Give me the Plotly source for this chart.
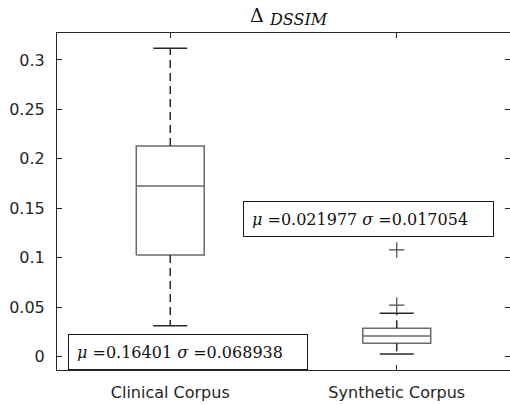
import plotly.graph_objects as go

# Summary statistics of the DSSIM difference for each corpus
categories = ["Clinical Corpus", "Synthetic Corpus"]
positions = [1, 2]
whisker_low = [0.0312, 0.0025]
q1 = [0.1027, 0.0134]
median = [0.1725, 0.0207]
q3 = [0.2130, 0.0285]
whisker_high = [0.3119, 0.0437]
outliers = [[], [0.0520, 0.1078]]
means = ["0.16401", "0.021977"]
stds = ["0.068938", "0.017054"]

y_ticks = [0, 0.05, 0.1, 0.15, 0.2, 0.25, 0.3]
y_tick_labels = ["0", "0.05", "0.1", "0.15", "0.2", "0.25", "0.3"]

BOX_HALF = 0.15
CAP_HALF = 0.075
BOX_COLOR = "#6a6a6a"
WHISKER_COLOR = "#2a2a2a"
AXIS_COLOR = "#262626"
SANS = "DejaVu Sans"
SERIF = "DejaVu Serif"

fig = go.Figure()

for i, x in enumerate(positions):
    # box outline
    fig.add_trace(go.Scatter(
        x=[x - BOX_HALF, x + BOX_HALF, x + BOX_HALF, x - BOX_HALF, x - BOX_HALF],
        y=[q1[i], q1[i], q3[i], q3[i], q1[i]],
        mode="lines", line=dict(color=BOX_COLOR, width=1.5),
        hoverinfo="skip", showlegend=False))
    # median
    fig.add_trace(go.Scatter(
        x=[x - BOX_HALF, x + BOX_HALF], y=[median[i], median[i]],
        mode="lines", line=dict(color=BOX_COLOR, width=1.5),
        hoverinfo="skip", showlegend=False))
    # dashed whiskers
    for a, b in ((q3[i], whisker_high[i]), (q1[i], whisker_low[i])):
        fig.add_trace(go.Scatter(
            x=[x, x], y=[a, b], mode="lines",
            line=dict(color=WHISKER_COLOR, width=1.5, dash="8px,5px"),
            hoverinfo="skip", showlegend=False))
    # whisker caps
    for v in (whisker_high[i], whisker_low[i]):
        fig.add_trace(go.Scatter(
            x=[x - CAP_HALF, x + CAP_HALF], y=[v, v], mode="lines",
            line=dict(color=WHISKER_COLOR, width=1.5),
            hoverinfo="skip", showlegend=False))
    # outliers
    if outliers[i]:
        fig.add_trace(go.Scatter(
            x=[x] * len(outliers[i]), y=outliers[i], mode="markers",
            marker=dict(symbol="cross-thin-open", size=11, color="#4a4a4a",
                        line=dict(color="#4a4a4a", width=1.2)),
            hoverinfo="skip", showlegend=False))

# mean / standard deviation labels
label_pos = [
    dict(x=1.079, y=0.0046, width=222),
    dict(x=1.876, y=0.1391, width=233),
]
for i in range(len(categories)):
    p = label_pos[i]
    fig.add_annotation(
        x=p["x"], y=p["y"], xref="x", yref="y",
        text=f"<i>μ</i> =0{means[i][1:]} <i>σ</i> =0{stds[i][1:]}",
        showarrow=False, align="left", width=p["width"], height=18,
        xanchor="center", yanchor="middle",
        font=dict(family=SERIF, size=16, color="#111111"),
        bgcolor="white", bordercolor="#1a1a1a", borderwidth=1, borderpad=8)

# title: Delta with italic subscript (positions in pixels from the top-left)
fig.add_annotation(x=256.5, y=405 - 15, xref="paper", yref="paper",
                   text="Δ", showarrow=False, xanchor="center", yanchor="middle",
                   font=dict(family=SERIF, size=19, color="#111111"))
fig.add_annotation(x=267, y=405 - 20, xref="paper", yref="paper",
                   text="<i>DSSIM</i>", showarrow=False, xanchor="left", yanchor="middle",
                   font=dict(family=SERIF, size=16, color="#111111"))

axis_common = dict(
    showline=True, linecolor=AXIS_COLOR, linewidth=1, mirror="ticks",
    ticks="inside", ticklen=5, tickcolor=AXIS_COLOR, tickwidth=1,
    showgrid=False, zeroline=False,
    tickfont=dict(family=SANS, size=16, color=AXIS_COLOR),
)

fig.update_layout(
    width=510, height=405,
    margin=dict(l=57, r=0, t=33, b=35, pad=0),
    paper_bgcolor="white", plot_bgcolor="white",
    xaxis=dict(range=[0.5, 2.5], tickvals=positions, ticktext=categories,
               ticklabelstandoff=8, **axis_common),
    yaxis=dict(range=[-0.0137, 0.3273], tickvals=y_ticks, ticktext=y_tick_labels,
               ticklabelstandoff=8, **axis_common),
)

# convert pixel positions of the title annotations to paper coordinates
for ann in fig.layout.annotations:
    if ann.xref == "paper":
        ann.x = (ann.x - 57) / (510 - 57)
        ann.y = (ann.y - 35) / (405 - 33 - 35)

fig.write_html("out.html")
